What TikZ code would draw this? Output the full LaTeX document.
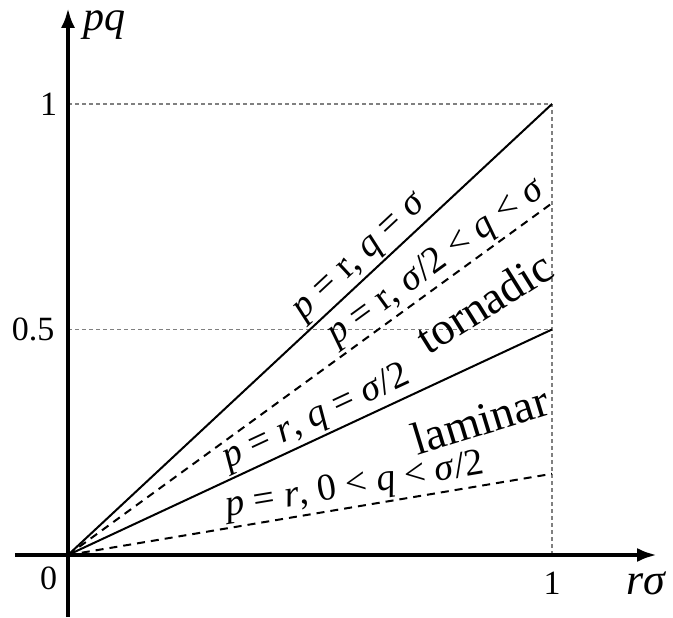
\documentclass[tikz,border=0pt]{standalone}
\usepackage{fontspec}
\setmainfont{Liberation Serif}
\usetikzlibrary{arrows.meta}
\tikzset{axis/.style={line width=2pt,-{Latex[length=10pt,width=7pt]}},
	guide/.style={gray,line width=0.6pt,dash pattern=on 2pt off 1.5pt},
	bound/.style={line width=1pt},
	mixed/.style={line width=1pt,dash pattern=on 4pt off 3pt},
	linelbl/.style={font=\fontsize{19}{19}\selectfont,sloped,above,inner sep=1pt},
	region/.style={font=\fontsize{23}{23}\selectfont,inner sep=1pt},
	tick/.style={font=\fontsize{17}{17}\selectfont}}

\begin{document}
\begin{tikzpicture}[x=242pt, y=225.5pt]
				\useasboundingbox (-0.1405,-0.1375) rectangle (1.25,1.2306);
				%
				\coordinate (O) at (0,0);
				\coordinate (A) at (1,1);
				\coordinate (B) at (1,0.78);
				\coordinate (C) at (1,0.5);
				\coordinate (D) at (1,0.18);
				\coordinate (X) at (1,0);
				\coordinate (Yone) at (0,1);
				\coordinate (Yhalf) at (0,0.5);
				%
				\draw[guide](Yone)--(A);
				\draw[guide](Yhalf)--(C);
				\draw[guide](X)--(A);
				%
				\draw[axis](-0.11,0)--(1.217,0) coordinate (xend);
				\draw[axis](0,-0.1375)--(0,1.213) coordinate (yend);
				%
				\draw[bound](O)--(A) node[linelbl,pos=0.63](la){\textit{p} = r, \textit{q} = \textit{σ}};
				\draw[mixed](O)--(B) node[linelbl,pos=0.785](lb){\textit{p} = r, \textit{σ}/2 < \textit{q} < \textit{σ}};
				\draw[bound](O)--(C) node[linelbl,pos=0.53](lc){\textit{p} = \textit{r}, \textit{q} = \textit{σ}/2};
				\draw[mixed](O)--(D) node[linelbl,pos=0.6](ld){\textit{p} = \textit{r}, 0 < \textit{q} < \textit{σ}/2};
				%
				\node[region,rotate=32](tornadic) at (0.86,0.56){tornadic};
				\node[region,rotate=17](laminar) at (0.851,0.30){laminar};
				%
				\node[tick](t0) at (-0.04,-0.052){0};
				\node[tick](t1x) at (1,-0.062){1};
				\node[tick](t1y) at (-0.04,1){1};
				\node[tick](thalf) at (-0.072,0.5){0.5};
				%
				\node[font=\fontsize{21}{21}\selectfont\itshape](ylbl) at (0.076,1.175){pq};
				\node[font=\fontsize{22}{22}\selectfont\itshape](xlbl) at (1.194,-0.062){r\textit{σ}};
			\end{tikzpicture}
\end{document}
